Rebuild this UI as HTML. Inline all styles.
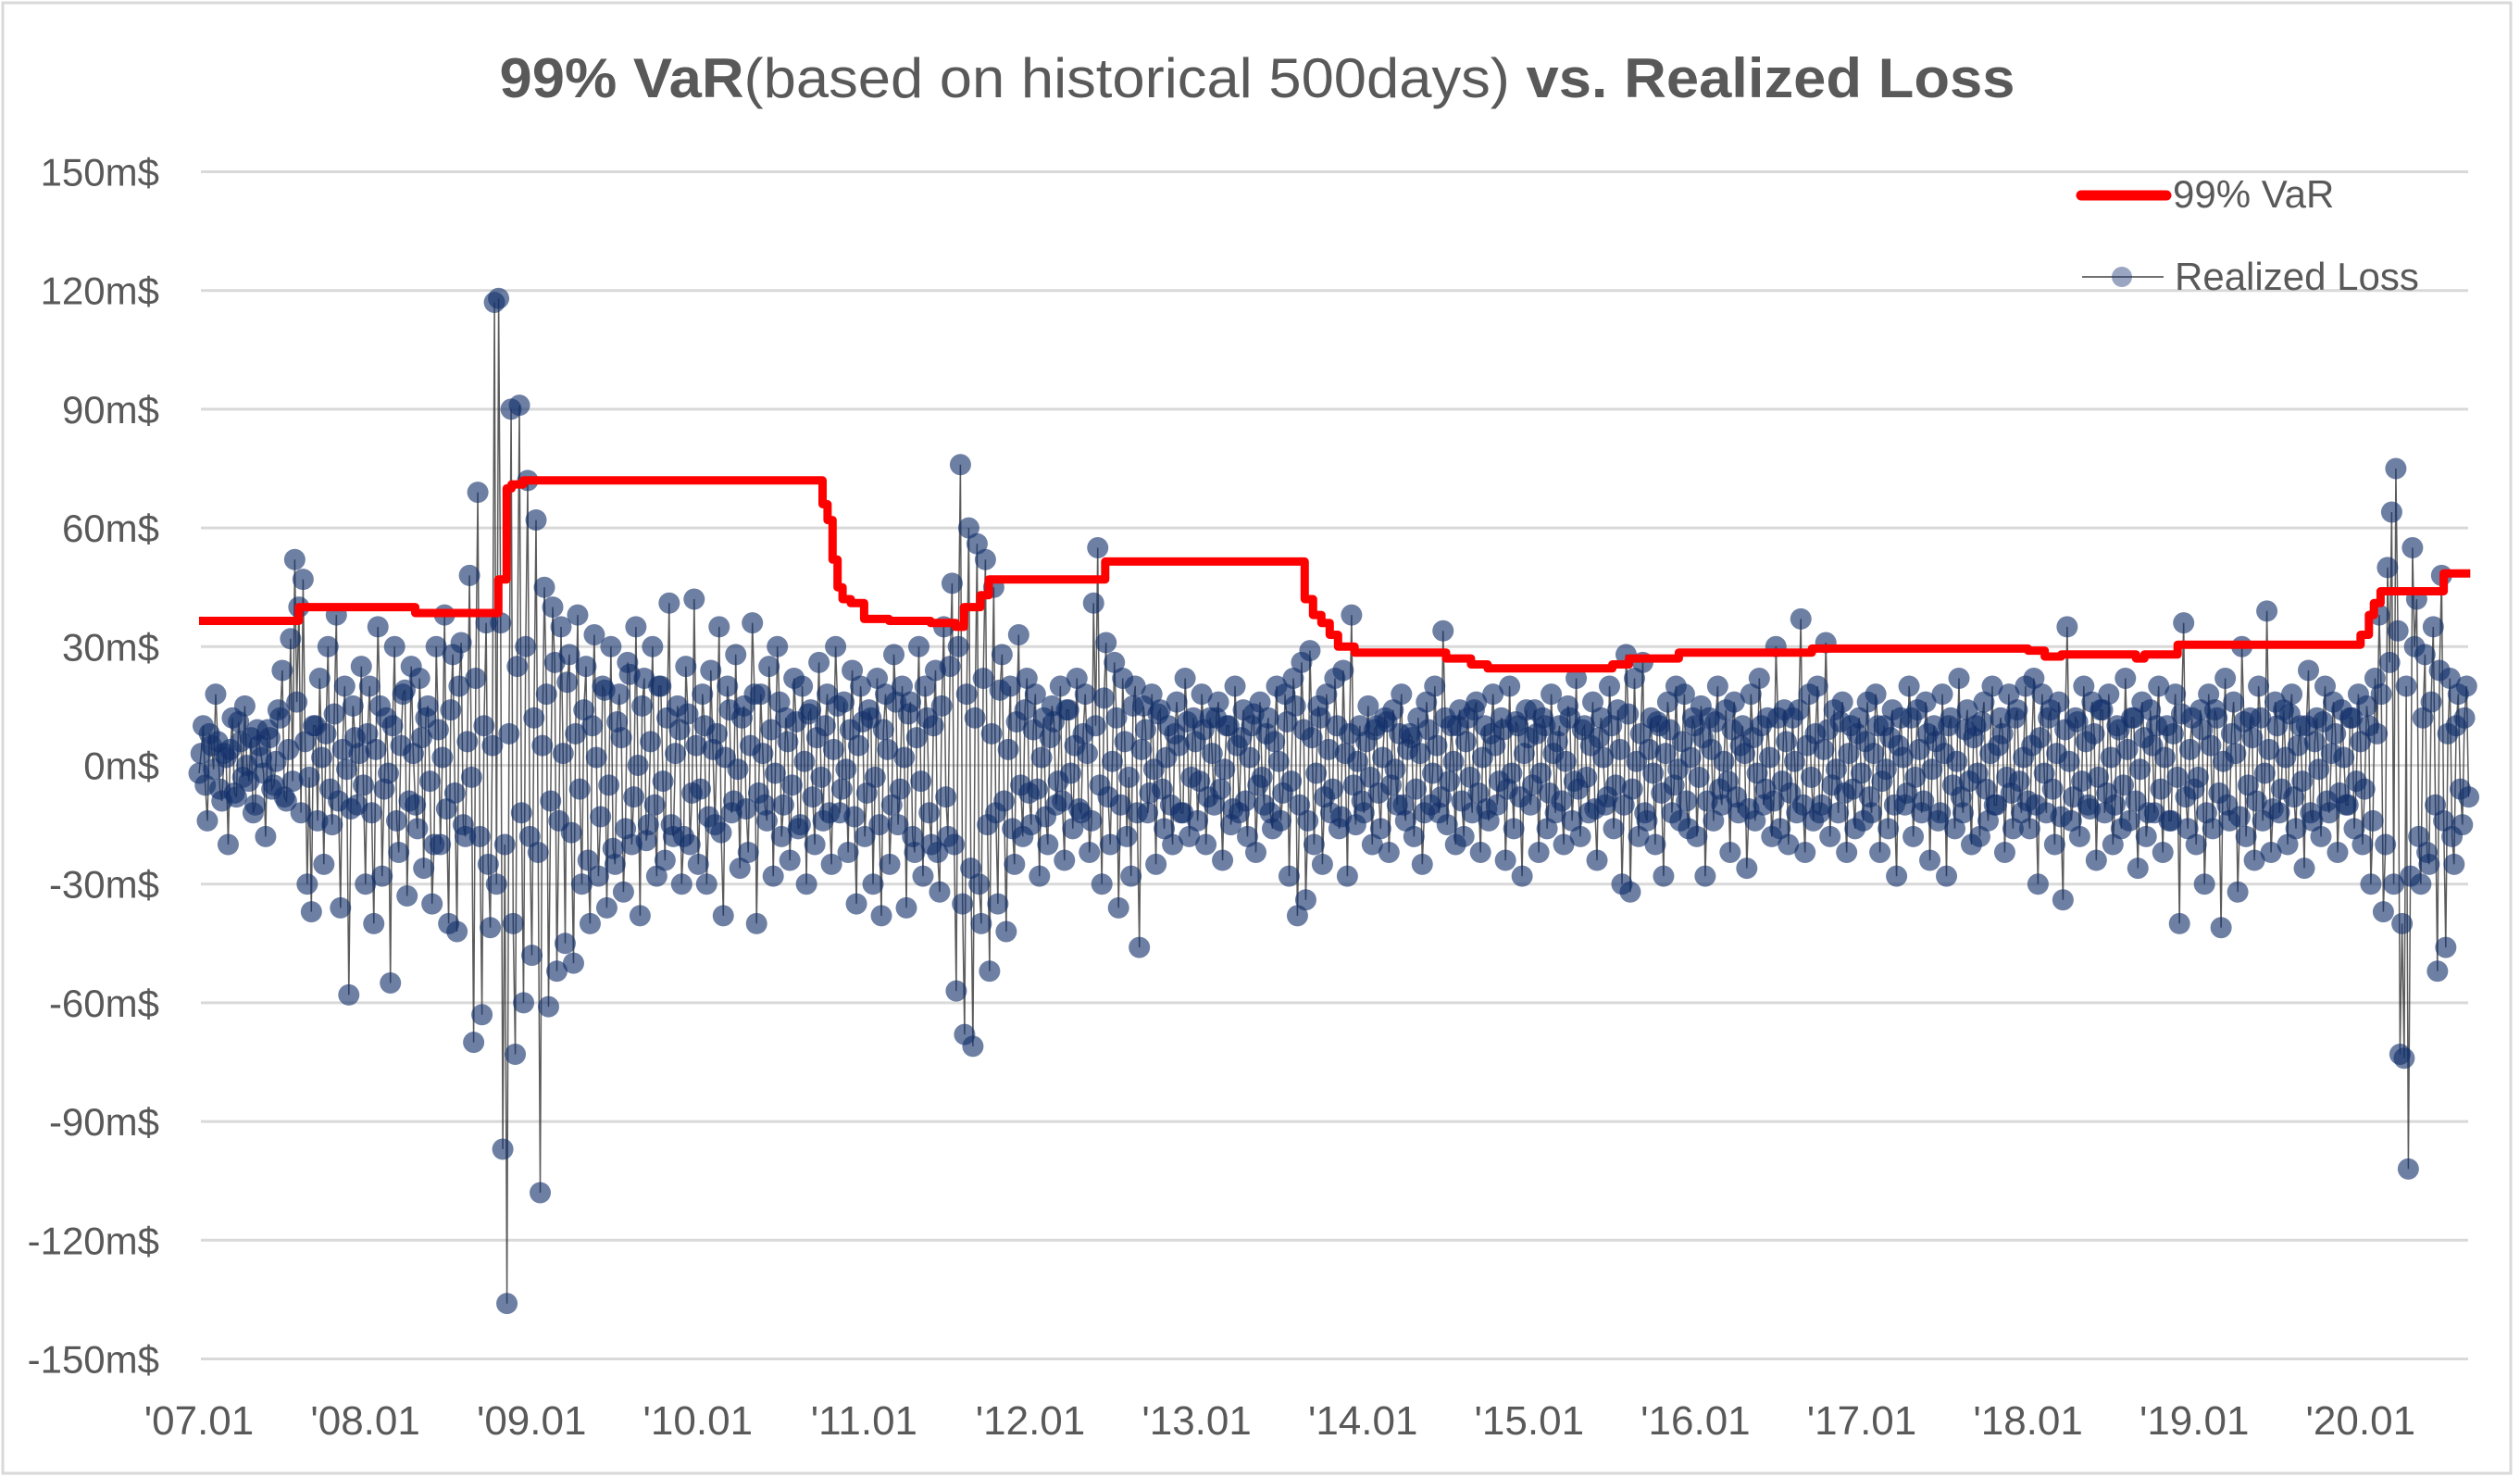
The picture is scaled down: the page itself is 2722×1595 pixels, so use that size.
<!DOCTYPE html>
<html>
<head>
<meta charset="utf-8">
<style>
  html, body { margin: 0; padding: 0; background: #fff; }
  svg { display: block; }
  text { font-family: "Liberation Sans", sans-serif; fill: #595959; }
</style>
</head>
<body>
<svg id="chart" width="2722" height="1595" viewBox="0 0 2722 1595" xmlns="http://www.w3.org/2000/svg">
  <rect x="3" y="3" width="2709" height="1588" fill="#fff" stroke="#d9d9d9" stroke-width="3"/>
  <text x="1358" y="105" text-anchor="middle" font-size="60" textLength="1637" lengthAdjust="spacingAndGlyphs"><tspan font-weight="bold">99% VaR</tspan>(based on historical 500days) <tspan font-weight="bold">vs. Realized Loss</tspan></text>
  <g id="grid"></g>
  <g id="yticks"></g>
  <g id="xticks"></g>
  <g id="loss"></g>
  <g id="var"></g>
  <g>
    <line x1="2248" y1="211" x2="2340" y2="211" stroke="#ff0000" stroke-width="11" stroke-linecap="round"/>
    <text x="2347" y="224" font-size="42">99% VaR</text>
    <line x1="2249" y1="299" x2="2337" y2="299" stroke="#404040" stroke-width="1.5"/>
    <circle cx="2292" cy="299" r="11" fill="#1f3a75" fill-opacity="0.45"/>
    <text x="2349" y="313" font-size="42">Realized Loss</text>
  </g>
</svg>
<script>
const yTicks = [150,120,90,60,30,0,-30,-60,-90,-120,-150];
const xTickYears = [2007,2008,2009,2010,2011,2012,2013,2014,2015,2016,2017,2018,2019,2020];
const xTickLabels = ["'07.01","'08.01","'09.01","'10.01","'11.01","'12.01","'13.01","'14.01","'15.01","'16.01","'17.01","'18.01","'19.01","'20.01"];
const varDates = [2007.0,2007.6,2008.3,2008.8,2008.85,2008.88,2008.95,2010.75,2010.78,2010.81,2010.84,2010.87,2010.92,2011.0,2011.15,2011.4,2011.55,2011.6,2011.7,2011.75,2012.45,2013.65,2013.7,2013.75,2013.8,2013.85,2013.95,2014.5,2014.65,2014.75,2015.5,2015.6,2015.9,2016.7,2018.0,2018.1,2018.2,2018.65,2018.7,2018.9,2019.3,2020.0,2020.05,2020.08,2020.12,2020.15,2020.5,2020.66];
const varValues = [36.5,40,38.5,47,70,71,72,66,62,52,45,42,41,37,36.5,36,35,40,43,47,51.5,42,38,36,33,30,28.5,27,25.5,24.5,25.5,27,28.5,29.5,29,27.5,28,27,28,30.5,30.5,33,38,41,44,44,48.5,48.5];
const lossStart = 2007.0;
const lossEnd = 2020.65;
// realized loss, odd trading days (large swings)
const lossValuesA = [
-2,10,-14,5,18,-6,3,-20,12,-8,6,15,-4,-12,9,2,-18,7,-5,14,24,-9,32,52,40,47,-30,-37,10,22,-25,30,-15,38,-36,20,-58,15,-10,25,
-30,20,-40,35,-28,12,-55,30,-22,18,-33,25,-10,22,-26,15,-35,30,-20,38,-40,28,-42,31,-18,48,-70,69,-63,36,-41,117,118,-97,-136,90,-73,91,-60,72,
-48,62,-108,45,-61,40,-52,35,-45,28,-50,38,-30,25,-40,33,-28,20,-36,30,-25,18,-32,26,-20,35,-38,22,-15,30,-28,20,-24,41,-18,15,-30,25,-20,42,
-25,18,-30,24,-15,35,-38,20,-12,28,-26,15,-22,36,-40,18,-10,25,-28,30,-18,12,-24,22,-16,20,-30,14,-20,26,-14,18,-25,30,-12,16,-22,24,-35,20,
-18,14,-30,22,-38,18,-25,28,-15,20,-36,16,-22,30,-28,12,-20,24,-32,35,-18,46,-57,76,-68,60,-71,56,-40,52,-52,45,-35,28,-42,20,-25,33,-18,22,
-15,18,-28,12,-20,15,-10,20,-24,14,-16,22,-12,18,-22,41,55,-30,31,-20,26,-36,22,-18,-28,20,-46,15,-12,18,-25,14,-16,10,-20,16,-12,22,-18,12,
-14,18,-20,12,-10,16,-24,10,-15,20,-12,14,-18,10,-22,16,-10,12,-16,20,-14,18,-28,22,-38,26,-34,29,-20,15,-25,18,-12,22,-16,24,-28,38,-15,10,
-12,15,-20,10,-16,12,-22,14,-10,18,-14,8,-18,12,-25,16,-10,20,-12,34,-15,10,-20,14,-18,12,-12,16,-22,10,-14,18,-10,12,-24,20,-16,10,-28,14,
-10,14,-22,12,-16,18,-12,10,-20,15,-14,22,-18,10,-12,16,-24,12,-10,20,-16,14,-30,28,-32,22,-18,26,-14,12,-20,10,-28,16,-12,20,-14,18,-16,12,
-18,15,-28,12,-14,20,-10,14,-22,16,-12,10,-26,18,-14,22,-10,12,-18,30,-16,14,-20,12,-12,37,-22,18,-14,20,-10,31,-18,14,-12,16,-22,10,-16,12,
-14,16,-12,18,-22,10,-16,14,-28,12,-10,20,-18,14,-12,16,-24,10,-14,18,-28,12,-16,22,-12,14,-20,10,-18,16,-14,20,-10,12,-22,18,-16,14,-12,20,
-16,22,-30,18,-12,14,-20,16,-34,35,-14,12,-18,20,-10,16,-24,14,-12,18,-20,10,-16,22,-14,12,-26,16,-18,14,-12,20,-22,10,-14,18,-40,36,-16,12,
-20,14,-30,18,-16,12,-41,22,-14,16,-32,30,-18,12,-24,20,-14,39,-22,16,-12,14,-20,18,-16,10,-26,24,-14,12,-18,20,-12,16,-22,14,-10,12,-16,18,
-20,15,-30,22,38,-37,50,64,75,-73,-74,-102,55,42,-30,28,-25,35,-52,48,-46,22,-25,18,-15,20
];
// realized loss, even trading days (typical small moves)
const lossValuesB = [
3,-5,8,-1,6,-9,2,4,-7,11,-3,0,7,-10,5,-2,9,-6,1,12,-8,4,-4,16,-12,6,-3,10,-14,2,8,-6,13,-9,4,-1,-11,7,3,-5,
8,-12,4,15,-6,-2,10,-14,5,19,-9,3,-16,7,12,-4,-20,9,2,-11,14,-7,20,-15,6,-3,22,-18,10,-25,5,-30,36,-20,8,-40,25,-12,30,-18,
12,-22,5,18,-9,26,-14,3,21,-17,8,-6,14,-24,10,2,-13,19,-5,-21,11,7,-16,23,-8,0,15,-19,6,-10,20,-4,12,-15,3,9,-18,13,-7,5,
-6,10,-13,4,8,-17,2,14,-9,-1,12,-11,5,18,-7,3,-14,9,-2,16,-10,6,-5,11,-15,1,13,-8,7,-3,10,-12,4,15,-6,-1,9,-13,5,11,
-7,12,-3,-15,9,4,-10,16,-6,2,13,-18,7,-4,20,-12,10,-22,15,-8,25,-20,30,-35,18,-26,12,-30,22,-15,8,-12,19,-9,4,-16,11,-5,14,-7,
9,-6,2,-13,7,11,-4,-9,14,-2,5,-11,8,3,-14,10,-5,17,-8,1,12,-10,6,-3,15,-12,4,9,-7,-1,13,-6,2,-10,8,5,-12,11,-3,6,
-4,9,-8,3,12,-6,-1,10,-11,5,7,-9,2,13,-5,-3,8,-12,6,1,-7,11,-4,15,-10,9,-14,7,-2,12,-8,4,-6,10,-13,3,8,-5,1,-9,
6,-3,9,-7,2,11,-5,-1,8,-10,4,7,-6,3,-12,9,-2,5,-8,12,-4,1,10,-9,6,-3,14,-7,2,-11,8,5,-4,9,-6,-2,11,-8,3,7,
-5,8,-2,10,-7,3,6,-9,1,12,-4,-6,9,-3,5,-11,7,2,-8,10,-5,4,-10,13,-6,1,8,-12,4,-2,11,-7,3,9,-5,-1,6,-9,2,10,
-3,7,-9,4,11,-6,1,-4,9,-8,5,3,-11,7,-2,10,-6,2,-9,12,-4,6,-7,1,14,-10,5,-3,8,-12,4,9,-5,-1,11,-7,3,-6,8,-2,
6,-8,3,10,-4,-1,7,-10,5,2,-7,12,-3,4,-9,8,-1,6,-12,3,10,-5,1,-8,9,-4,7,-2,11,-6,3,-10,5,8,-3,-7,12,-4,2,-9,
5,-10,7,-2,12,-6,3,-13,9,1,-8,11,-4,6,-11,8,-3,14,-7,2,-10,9,-5,4,12,-9,-1,7,-12,5,10,-6,2,-14,8,-3,13,-8,4,-6,
-3,9,-12,5,14,-7,1,-10,8,3,-13,11,-5,7,-9,12,-2,4,-11,10,-6,2,13,-8,5,-4,10,-12,6,-1,11,-9,3,8,-7,2,-10,12,-4,6,
-6,10,-14,8,18,-20,26,-30,34,-40,20,-28,30,-18,12,-22,16,-10,24,-14,8,-18,10,-6,12,-8
];

const NS = "http://www.w3.org/2000/svg";
const plotL = 217, plotR = 2666, zeroY = 826.5, pxPer30 = 128.2;
const x0 = 215, pxPerYear = 179.6;
function xScale(yr) { return x0 + (yr - 2007) * pxPerYear; }
function yScale(v) { return zeroY - v * pxPer30 / 30; }
function mk(tag, attrs, parent) {
  const e = document.createElementNS(NS, tag);
  for (const k in attrs) e.setAttribute(k, attrs[k]);
  parent.appendChild(e);
  return e;
}

const grid = document.getElementById('grid');
const yg = document.getElementById('yticks');
yTicks.forEach(function (t) {
  const y = yScale(t);
  const gl = mk('line', {x1: plotL, x2: plotR, y1: y, y2: y, stroke: '#d9d9d9', 'stroke-width': 3}, grid);
  
  
  const tx = mk('text', {x: 172, y: y + 15, 'text-anchor': 'end', 'font-size': 42}, yg);
  tx.textContent = t + 'm$';
  
  
});

const xg = document.getElementById('xticks');
xTickYears.forEach(function (yr, i) {
  const tx = mk('text', {x: xScale(yr), y: 1549, 'text-anchor': 'middle', 'font-size': 44}, xg);
  tx.textContent = xTickLabels[i];
  
  
});

// merge the two day-sets in time order
const lossValues = [];
for (let i = 0; i < Math.max(lossValuesA.length, lossValuesB.length); i++) {
  if (i < lossValuesA.length) lossValues.push(lossValuesA[i]);
  if (i < lossValuesB.length) lossValues.push(lossValuesB[i]);
}

const lg = document.getElementById('loss');
const n = lossValues.length;
function dateAt(i) { return lossStart + (lossEnd - lossStart) * i / (n - 1); }
let pts = [];
lossValues.forEach(function (v, i) {
  pts.push(xScale(dateAt(i)).toFixed(1) + ',' + yScale(v).toFixed(1));
});
const pl = mk('polyline', {points: pts.join(' '), fill: 'none', stroke: '#333333', 'stroke-width': 1.5, 'stroke-opacity': 0.8}, lg);


lossValues.forEach(function (v, i) {
  const c = mk('circle', {cx: xScale(dateAt(i)), cy: yScale(v), r: 11.5, fill: '#14306a', 'fill-opacity': 0.62}, lg);
  
  
});

const vg = document.getElementById('var');
let vp = [];
varDates.forEach(function (d, i) {
  if (i > 0) vp.push(xScale(d).toFixed(1) + ',' + yScale(varValues[i - 1]).toFixed(1));
  vp.push(xScale(d).toFixed(1) + ',' + yScale(varValues[i]).toFixed(1));
});
const vl = mk('polyline', {points: vp.join(' '), fill: 'none', stroke: '#ff0000', 'stroke-width': 9, 'stroke-linejoin': 'round'}, vg);


</script>
</body>
</html>
